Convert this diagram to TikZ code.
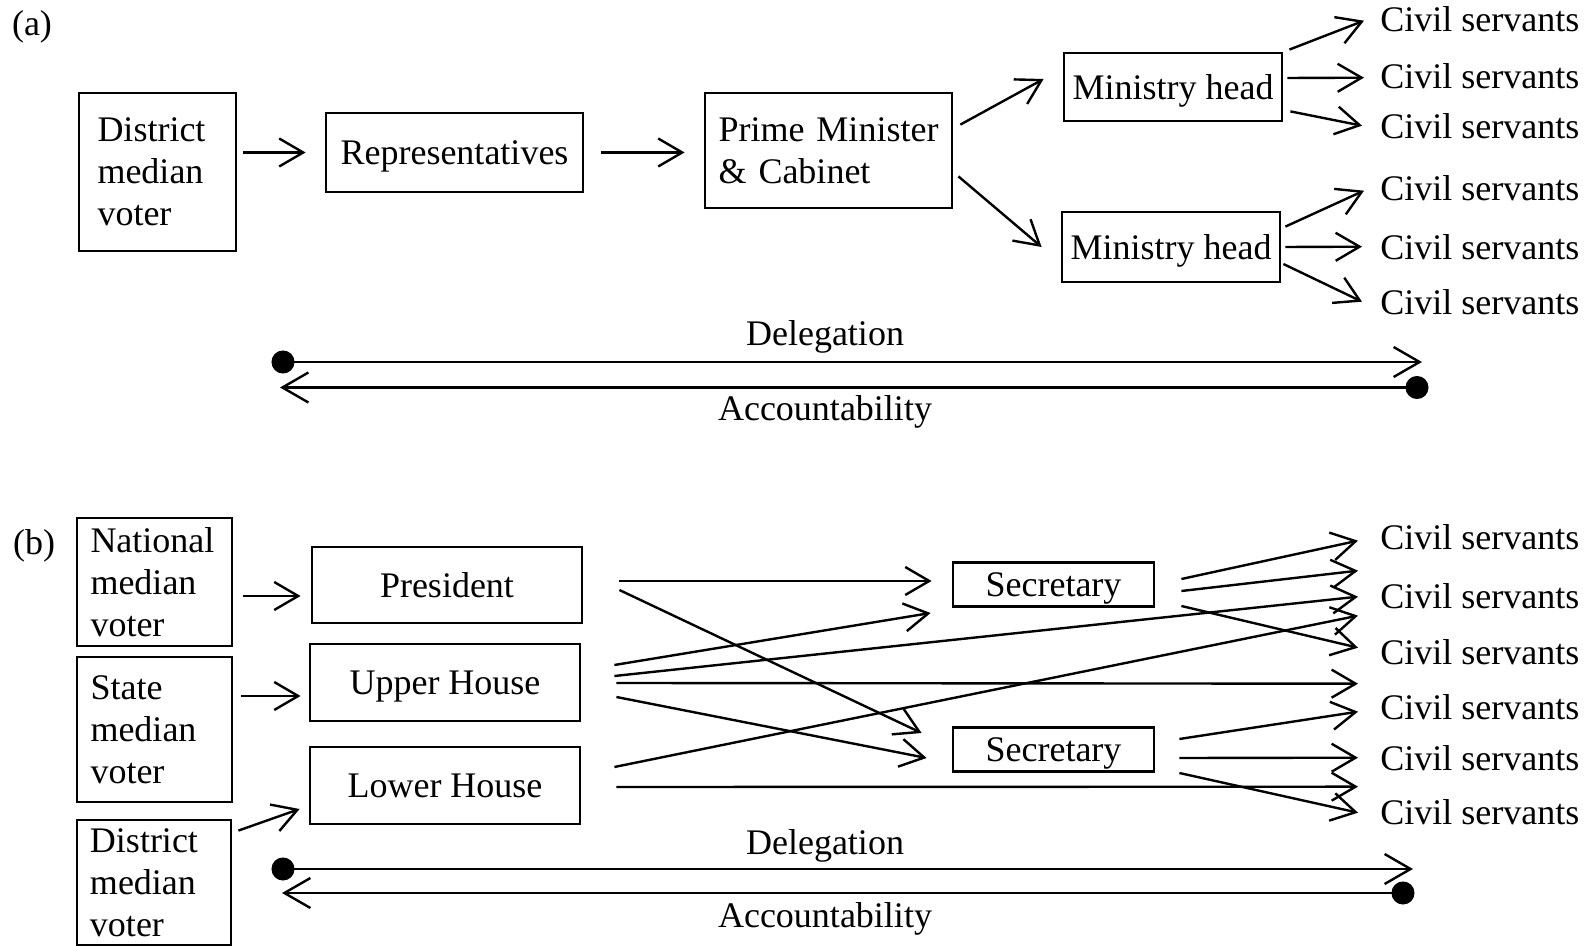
\documentclass[tikz,border=0pt]{standalone}
\usepackage{fontspec}
\setmainfont{Liberation Serif}
\usetikzlibrary{arrows.meta,calc}
\begin{document}
\begin{tikzpicture}[x=0.5pt,y=-0.5pt,
  every node/.style={font=\fontsize{18}{21}\selectfont},
  box/.style={draw, line width=1.4pt, inner sep=0pt, text height=12.2pt, text depth=0pt},
  lbox/.style={draw, line width=1.4pt, align=left, inner ysep=0pt},
  lab/.style={inner sep=0pt, anchor=base},
  cs/.style={inner sep=0pt, anchor=base west},
  arr/.style={line width=1.2pt, -{Straight Barb[length=12pt,width=14pt]}},
  dtip/.style={line width=1.2pt, {Circle[length=11.5pt]}-{Straight Barb[length=13pt,width=15pt]}},
]
\useasboundingbox (0,0) rectangle (1587,946);

% ---------------- (a) ----------------
\node[lab] (la) at (32,36) {(a)};
\node[lbox, text width=60pt, inner xsep=9.25pt, minimum height=79pt] (distA) at (157.5,172) {District\\median\\voter};
\node[box, minimum width=128.5pt, minimum height=39.5pt] (rep) at (454.5,152.5) {Representatives};
\node[lbox, text width=110pt, inner xsep=6.75pt, minimum height=57.5pt] (pm) at (828.5,150.5) {Prime Minister\\\& Cabinet};
\node[box, minimum width=109pt, minimum height=34pt] (mh1) at (1173,87) {Ministry head};
\node[box, minimum width=109pt, minimum height=35pt] (mh2) at (1171,247) {Ministry head};
\node[cs] (csa1) at (1380,32) {Civil servants};
\node[cs] (csa2) at (1380,89) {Civil servants};
\node[cs] (csa3) at (1380,139) {Civil servants};
\node[cs] (csa4) at (1380,201) {Civil servants};
\node[cs] (csa5) at (1380,260) {Civil servants};
\node[cs] (csa6) at (1380,315) {Civil servants};

\draw[arr, shorten <=3pt, shorten >=9.5pt] (distA.east |- rep.west) -- (rep.west);
\draw[arr, shorten <=8.5pt, shorten >=9.5pt] (rep.east) -- (rep.east -| pm.west);
\draw[arr] ($(pm.north east)+(7,33)$) -- ($(mh1.west)+(-19,-8)$);
\draw[arr] ($(pm.south east)+(5,-33)$) -- ($(mh2.west)+(-19,0)$);
\draw[arr] ($(mh1.north east)+(6,-2)$) -- ($(csa1.west)+(-16,1)$);
\draw[arr] ($(mh1.east)+(4,-9)$) -- ($(csa2.west)+(-16,1)$);
\draw[arr] ($(mh1.south east)+(7,-11)$) -- ($(csa3.west)+(-18,-1)$);
\draw[arr] ($(mh2.north east)+(4,16)$) -- ($(csa4.west)+(-16,2)$);
\draw[arr] ($(mh2.east)+(4,0)$) -- ($(csa5.west)+(-18,-1)$);
\draw[arr] ($(mh2.east)+(2,17)$) -- ($(csa6.west)+(-18,-1)$);

\coordinate (dA1) at (271.5,362);
\coordinate (dA2) at (1422,362);
\coordinate (aA1) at (1428.5,387.5);
\coordinate (aA2) at (280,387.5);
\draw[dtip] (dA1) -- (dA2);
\draw[dtip] (aA1) -- (aA2);
\node[lab] (delA) at (825,346) {Delegation};
\node[lab] (accA) at (825,421) {Accountability};

% ---------------- (b) ----------------
\node[lab] (lb) at (34,555) {(b)};
\node[lbox, text width=64pt, inner xsep=6.75pt, minimum height=64pt] (natB) at (154.5,582) {National\\median\\voter};
\node[lbox, text width=64pt, inner xsep=6.75pt, minimum height=72.5pt] (stateB) at (154.5,729.5) {State\\median\\voter};
\node[lbox, text width=64pt, inner xsep=6.5pt, minimum height=62.5pt] (distB) at (154,882.5) {District\\median\\voter};
\node[box, minimum width=135pt, minimum height=38pt] (pres) at (447,585) {President};
\node[box, minimum width=135pt, minimum height=38.5pt] (upper) at (445,682.5) {Upper House};
\node[box, minimum width=135pt, minimum height=38.5pt] (lower) at (445,785.5) {Lower House};
\node[box, minimum width=100.5pt, minimum height=22pt] (sec1) at (1053.5,584.5) {Secretary};
\node[box, minimum width=100.5pt, minimum height=22pt] (sec2) at (1053.5,749.5) {Secretary};
\node[cs] (csb1) at (1380,550) {Civil servants};
\node[cs] (csb2) at (1380,609) {Civil servants};
\node[cs] (csb3) at (1380,665) {Civil servants};
\node[cs] (csb4) at (1380,719) {Civil servants};
\node[cs] (csb5) at (1380,770) {Civil servants};
\node[cs] (csb6) at (1380,825) {Civil servants};

\draw[arr] ($(natB.east)+(10,14)$) -- ($(pres.west)+(-10,11)$);
\draw[arr] ($(stateB.east)+(8,-33.5)$) -- ($(upper.west)+(-8,13.5)$);
\draw[arr] ($(distB.north east)+(6,12)$) -- ($(lower.west)+(-9,23.5)$);

\draw[arr] ($(pres.east)+(36,-4)$) -- ($(sec1.west)+(-20,-3.5)$);
\draw[arr] ($(pres.east)+(36,5)$) -- ($(sec2.west)+(-30,-16.5)$);
\draw[arr] ($(upper.east)+(33,-17.5)$) -- ($(sec1.west)+(-21,28.5)$);
\draw[arr] ($(upper.east)+(33,-6.5)$) -- ($(csb2.west)+(-22,0)$);
\draw[arr] ($(upper.east)+(35,0.5)$) -- ($(csb4.west)+(-22,-23)$);
\draw[arr] ($(upper.east)+(35,14.5)$) -- ($(sec2.west)+(-25,8.5)$);
\draw[arr] ($(lower.east)+(33,-18.5)$) -- ($(csb2.west)+(-22,19)$);
\draw[arr] ($(lower.east)+(35,1.5)$) -- ($(csb6.west)+(-22,-26)$);
\draw[arr] ($(sec1.east)+(26,-5.5)$) -- ($(csb1.west)+(-22,3)$);
\draw[arr] ($(sec1.east)+(26,6.5)$) -- ($(csb1.west)+(-22,33)$);
\draw[arr] ($(sec1.east)+(26,21.5)$) -- ($(csb3.west)+(-22,-5)$);
\draw[arr] ($(sec2.east)+(24,-10.5)$) -- ($(csb4.west)+(-22,5)$);
\draw[arr] ($(sec2.east)+(24,8.5)$) -- ($(csb5.west)+(-22,0)$);
\draw[arr] ($(sec2.east)+(24,23.5)$) -- ($(csb6.west)+(-22,0)$);

\coordinate (dB1) at (271.5,869);
\coordinate (dB2) at (1413,869);
\coordinate (aB1) at (1414.5,893);
\coordinate (aB2) at (282,893);
\draw[dtip] (dB1) -- (dB2);
\draw[dtip] (aB1) -- (aB2);
\node[lab] (delB) at (825,855) {Delegation};
\node[lab] (accB) at (825,928) {Accountability};
\end{tikzpicture}
\end{document}
